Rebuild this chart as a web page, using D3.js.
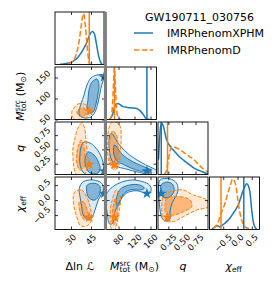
<!DOCTYPE html>
<html>
<head>
<meta charset="utf-8">
<script src="https://cdn.jsdelivr.net/npm/d3@7"></script>
<style>
  body { margin: 0; background: #fff; }
  text { font-family: "DejaVu Sans", sans-serif; }
</style>
</head>
<body>
<svg id="chart" width="276" height="285"></svg>
<script>
// ---- values ----
const eventName = "GW190711_030756";
const waveforms = ["IMRPhenomXPHM", "IMRPhenomD"];

const dlnLRange = [18, 55.5];
const mtotRange = [50, 175];
const qRange = [0.06, 0.98];
const chiRange = [-0.98, 0.77];

const dlnLTicks = [30, 45];
const mtotXTicks = [80, 120, 160];
const mtotYTicks = [50, 100, 150];
const qTicks = [0.25, 0.5, 0.75];
const chiTicks = [-0.5, 0, 0.5];

// max-likelihood samples (vertical lines / stars), order: dlnL, mtot, q, chiEff
const xphmMaxL = [54.75, 151, 0.12, 0.22];
const phenomdMaxL = [43.7, 70, 0.235, -0.577];

// 1D marginals, [value, density] with density relative to panel height
const xphmDlnL = [[21.75, 0.005], [26.25, 0.02], [30.75, 0.05], [35.25, 0.14], [39, 0.28], [42, 0.43], [44.25, 0.58], [46.1, 0.63], [47.6, 0.58], [49.1, 0.39], [50.6, 0.18], [52.1, 0.05], [53.25, 0.005]];
const phenomdDlnL = [[27.75, 0.01], [30.75, 0.05], [33.75, 0.18], [36, 0.43], [37.5, 0.7], [38.6, 0.9], [39.4, 0.97], [40.1, 0.9], [40.9, 0.7], [42, 0.37], [43.1, 0.12], [44.25, 0.01]];
const xphmMtot = [[57.5, 0], [65, 0.09], [71.25, 0.26], [75, 0.3], [80, 0.3], [90, 0.25], [102.5, 0.23], [115, 0.22], [125, 0.21], [135, 0.16], [142.5, 0.09], [148.75, 0.02], [157.5, 0]];
const phenomdMtot = [[57.5, 0], [62.5, 0.07], [65, 0.28], [67.5, 0.66], [69.5, 0.98], [71.5, 0.75], [73.75, 0.37], [76.25, 0.12], [80, 0.03], [87.5, 0]];
const xphmQ = [[0.069, 0.28], [0.088, 0.66], [0.106, 0.9], [0.128, 0.975], [0.152, 0.94], [0.18, 0.83], [0.207, 0.7], [0.244, 0.6], [0.281, 0.54], [0.373, 0.43], [0.465, 0.33], [0.557, 0.25], [0.649, 0.18], [0.741, 0.11], [0.833, 0.07], [0.925, 0.03], [0.98, 0.013]];
const phenomdQ = [[0.17, 0.005], [0.207, 0.05], [0.244, 0.24], [0.281, 0.45], [0.318, 0.53], [0.373, 0.52], [0.428, 0.49], [0.52, 0.43], [0.612, 0.36], [0.704, 0.3], [0.796, 0.2], [0.888, 0.11], [0.98, 0.05]];
const xphmChi = [[-0.893, 0.004], [-0.788, 0.05], [-0.7, 0.07], [-0.613, 0.05], [-0.507, 0.09], [-0.378, 0.15], [-0.262, 0.22], [-0.147, 0.31], [-0.052, 0.39], [0.028, 0.47], [0.122, 0.62], [0.203, 0.75], [0.263, 0.83], [0.322, 0.87], [0.385, 0.83], [0.438, 0.7], [0.497, 0.37], [0.543, 0.18], [0.578, 0.09], [0.672, 0.004]];
const phenomdChi = [[-0.847, 0.02], [-0.753, 0.07], [-0.672, 0.15], [-0.577, 0.3], [-0.437, 0.5], [-0.332, 0.7], [-0.262, 0.82], [-0.168, 0.96], [-0.105, 0.92], [-0.052, 0.82], [0.028, 0.5], [0.088, 0.31], [0.147, 0.18], [0.263, 0.05], [0.438, 0.01]];

// 2D credible contours (90% and 50%), [x, y] in data units
const xphmDlnLMtot90 = [[54.75, 156], [49.5, 156], [45, 148.8], [42, 132.1], [39.75, 108.3], [37.5, 86.9], [36, 70.2], [36.75, 58.3], [40.5, 53.6], [45, 56], [48, 67.9], [50.25, 89.3], [51.75, 113.1], [53.25, 134.5], [54.75, 148.8]];
const xphmDlnLMtot50 = [[49.5, 146.4], [45.75, 139.3], [43.5, 120.2], [42.75, 96.4], [42, 77.4], [43.5, 65.5], [46.5, 67.9], [48.75, 86.9], [50.25, 110.7], [51, 132.1]];
const phenomdDlnLMtot90 = [[32.25, 77.4], [35.25, 86.9], [39.75, 86.9], [42.75, 79.8], [43.5, 67.9], [42, 56], [39.75, 48], [33.75, 48], [30.75, 58.3], [30.75, 70.2]];
const phenomdDlnLMtot50 = [[36, 75], [39.75, 77.4], [41.25, 67.9], [39.75, 58.3], [36, 58.3], [34.5, 67.9]];

const xphmDlnLQ90 = [[39.75, 0.629], [44.25, 0.612], [48, 0.542], [51.75, 0.419], [54, 0.279], [54.75, 0.139], [53.25, 0.03], [44.25, 0.03], [39, 0.104], [36.75, 0.244], [36.75, 0.419], [37.5, 0.542]];
const xphmDlnLQ50 = [[42.75, 0.454], [47.25, 0.402], [50.25, 0.297], [51.75, 0.174], [50.25, 0.086], [44.25, 0.086], [41.25, 0.191], [40.5, 0.332]];
const phenomdDlnLQ90 = [[38.25, 0.962], [40.5, 0.84], [41.25, 0.664], [42, 0.489], [42.75, 0.314], [42, 0.174], [39.75, 0.04], [34.5, 0.04], [32.25, 0.174], [31.5, 0.349], [31.5, 0.524], [33, 0.699], [35.25, 0.875]];
const phenomdDlnLQ50 = [[37.5, 0.664], [39.75, 0.524], [40.5, 0.349], [39.75, 0.191], [36.75, 0.139], [34.5, 0.244], [34.5, 0.454], [36, 0.594]];

const xphmDlnLChi90 = [[39.2, 0.613], [46.7, 0.67], [53, 0.56], [54.2, 0.337], [50.5, 0.003], [48, -0.33], [45.5, -0.607], [43, -0.663], [39.2, -0.497], [38, -0.22], [36.75, 0.113], [36.2, 0.393]];
const xphmDlnLChi50 = [[42.2, 0.503], [48, 0.56], [51.75, 0.447], [51.2, 0.17], [48, 0.003], [43.7, 0.06], [41.8, 0.28]];
const phenomdDlnLChi90 = [[33, 0.28], [38, 0.337], [41.8, 0.113], [44.25, -0.22], [45.5, -0.553], [44.25, -0.773], [40.5, -0.887], [36.75, -0.83], [34.3, -0.553], [32.25, -0.22], [31.7, 0.113]];
const phenomdDlnLChi50 = [[36.2, -0.053], [39.2, -0.053], [41.8, -0.273], [43, -0.553], [40.5, -0.663], [38, -0.553], [36.2, -0.273]];

const xphmMtotQ90 = [[61.75, 0.782], [82.5, 0.577], [107.5, 0.402], [140.75, 0.256], [165.75, 0.169], [178, 0.121], [178, 0.04], [132.5, 0.095], [99.25, 0.156], [74.25, 0.209], [61.75, 0.331], [56.25, 0.559], [57.5, 0.717]];
const xphmMtotQ50 = [[70, 0.577], [90.75, 0.402], [115.75, 0.284], [149.25, 0.179], [162.5, 0.139], [157.5, 0.099], [124.25, 0.139], [95, 0.226], [74.25, 0.314], [67.5, 0.459]];
const phenomdMtotQ90 = [[65.75, 0.985], [82.5, 0.927], [86.75, 0.694], [84.25, 0.459], [80.75, 0.226], [70, 0.139], [55.75, 0.284], [53.25, 0.577], [55.75, 0.869]];
const phenomdMtotQ50 = [[65, 0.822], [75, 0.752], [78.75, 0.524], [77.5, 0.279], [70, 0.174], [60, 0.261], [57.5, 0.524], [60, 0.717]];

const xphmMtotChi90 = [[49.25, 0.17], [65.75, 0.447], [90.75, 0.613], [115.75, 0.67], [140.75, 0.613], [157.5, 0.503], [161.75, 0.337], [153.25, 0.227], [124.25, 0.313], [99.25, 0.227], [82.5, -0.053], [70, -0.44], [65.75, -0.773], [57.5, -0.797], [52.5, -0.497]];
const xphmMtotChi50 = [[82.5, 0.337], [107.5, 0.503], [132.5, 0.503], [145, 0.393], [132.5, 0.337], [107.5, 0.337], [90.75, 0.17], [78.25, -0.22], [74.25, -0.107]];
const phenomdMtotChi90 = [[74.25, 0.337], [84.25, 0.113], [82.5, -0.33], [75.75, -0.773], [70, -1.0], [61.75, -0.94], [59.25, -0.44], [64.25, 0.003]];
const phenomdMtotChi50 = [[72.5, 0.06], [78.25, -0.22], [74.25, -0.663], [67.5, -0.83], [64.25, -0.553], [67.5, -0.163]];

const xphmQChi90 = [[0.097, 0.67], [0.207, 0.72], [0.336, 0.67], [0.41, 0.537], [0.428, 0.337], [0.391, 0.137], [0.318, -0.097], [0.281, -0.397], [0.281, -0.63], [0.207, -0.697], [0.134, -0.597], [0.097, -0.33], [0.078, 0.07], [0.069, 0.403]];
const xphmQChi50 = [[0.134, 0.537], [0.244, 0.603], [0.336, 0.503], [0.354, 0.303], [0.299, 0.137], [0.189, 0.07], [0.115, 0.203], [0.106, 0.403]];
const phenomdQChi90 = [[0.281, 0.28], [0.526, 0.337], [0.71, 0.17], [0.956, 0.003], [0.985, -0.22], [0.771, -0.33], [0.526, -0.553], [0.342, -0.72], [0.158, -0.663], [0.128, -0.33], [0.158, 0.113]];
const phenomdQChi50 = [[0.22, 0.06], [0.465, 0.113], [0.649, 0.003], [0.68, -0.22], [0.526, -0.387], [0.342, -0.497], [0.207, -0.44], [0.189, -0.163]];

// ---- layout ----
const svg = d3.select("#chart");
const gridLeft = 55, gridTop = 12;
const cellW = 50, cellH = 52.5, gapX = 1.5, gapY = 2.5;
const colX = (i) => gridLeft + i * (cellW + gapX);
const rowY = (j) => gridTop + j * (cellH + gapY);
const blue = "#1f77b4", orange = "#ff7f0e";
const tickFont = 8.5, labelFont = 11;

const axes = [
  { domain: dlnLRange, xTicks: dlnLTicks, yTicks: dlnLTicks, fmt: d3.format("d") },
  { domain: mtotRange, xTicks: mtotXTicks, yTicks: mtotYTicks, fmt: d3.format("d") },
  { domain: qRange, xTicks: qTicks, yTicks: qTicks, fmt: d3.format(".2f") },
  { domain: chiRange, xTicks: chiTicks, yTicks: chiTicks, fmt: d3.format(".1f") },
];
const xScales = axes.map((a, i) => d3.scaleLinear().domain(a.domain).range([colX(i), colX(i) + cellW]));
const yScales = axes.map((a, j) => d3.scaleLinear().domain(a.domain).range([rowY(j) + cellH, rowY(j)]));

const series = [
  { color: blue, dash: null, marg: [xphmDlnL, xphmMtot, xphmQ, xphmChi], maxL: xphmMaxL, fill: [0.16, 0.45] },
  { color: orange, dash: "3.7,1.6", marg: [phenomdDlnL, phenomdMtot, phenomdQ, phenomdChi], maxL: phenomdMaxL, fill: [0.18, 0.45] },
];

const panels2d = [
  { row: 1, col: 0, levels: [[xphmDlnLMtot90, xphmDlnLMtot50], [phenomdDlnLMtot90, phenomdDlnLMtot50]] },
  { row: 2, col: 0, levels: [[xphmDlnLQ90, xphmDlnLQ50], [phenomdDlnLQ90, phenomdDlnLQ50]] },
  { row: 3, col: 0, levels: [[xphmDlnLChi90, xphmDlnLChi50], [phenomdDlnLChi90, phenomdDlnLChi50]] },
  { row: 2, col: 1, levels: [[xphmMtotQ90, xphmMtotQ50], [phenomdMtotQ90, phenomdMtotQ50]] },
  { row: 3, col: 1, levels: [[xphmMtotChi90, xphmMtotChi50], [phenomdMtotChi90, phenomdMtotChi50]] },
  { row: 3, col: 2, levels: [[xphmQChi90, xphmQChi50], [phenomdQChi90, phenomdQChi50]] },
];

const defs = svg.append("defs");
const clipFor = (row, col) => {
  const id = `clip-${row}-${col}`;
  defs.append("clipPath").attr("id", id)
    .append("rect").attr("x", colX(col)).attr("y", rowY(row)).attr("width", cellW).attr("height", cellH);
  return `url(#${id})`;
};

const ticks = (g, x, y, xVals, yVals) => {
  const tl = -3;
  const addAxis = (axis, tr) => {
    const a = g.append("g").attr("transform", tr).call(axis.tickSize(tl).tickSizeOuter(0).tickFormat(""));
    a.select(".domain").remove();
    a.selectAll("line").attr("stroke-width", 0.8);
  };
  addAxis(d3.axisBottom(x).tickValues(xVals), `translate(0,${y.range()[0]})`);
  addAxis(d3.axisTop(x).tickValues(xVals), `translate(0,${y.range()[1]})`);
  if (yVals) {
    addAxis(d3.axisLeft(y).tickValues(yVals), `translate(${x.range()[0]},0)`);
    addAxis(d3.axisRight(y).tickValues(yVals), `translate(${x.range()[1]},0)`);
  }
};

const frame = (g, row, col) => {
  g.append("rect").attr("x", colX(col)).attr("y", rowY(row)).attr("width", cellW).attr("height", cellH)
    .attr("fill", "none").attr("stroke", "#000").attr("stroke-width", 0.9);
};

const star = d3.symbol(d3.symbolStar, 38);

// ---- diagonal: 1D marginals ----
axes.forEach((a, i) => {
  const g = svg.append("g").attr("class", "diag");
  const x = xScales[i];
  const yD = d3.scaleLinear().domain([0, 1]).range([rowY(i) + cellH, rowY(i)]);
  const body = g.append("g").attr("clip-path", clipFor(i, i));
  const line = d3.line().curve(d3.curveMonotoneX).x((d) => x(d[0])).y((d) => yD(d[1]));
  series.forEach((s) => {
    body.append("path").attr("d", line(s.marg[i]))
      .attr("fill", "none").attr("stroke", s.color).attr("stroke-width", 1.5)
      .attr("stroke-dasharray", s.dash ? "5.5,2.4" : null);
  });
  series.forEach((s) => {
    body.append("line").attr("x1", x(s.maxL[i])).attr("x2", x(s.maxL[i]))
      .attr("y1", rowY(i)).attr("y2", rowY(i) + cellH)
      .attr("stroke", s.color).attr("stroke-width", 1.5);
  });
  ticks(g, x, yD, a.xTicks, null);
  frame(g, i, i);
});

// ---- lower triangle: 2D contours ----
const closed = d3.line().curve(d3.curveCatmullRomClosed.alpha(0.5));
panels2d.forEach((p) => {
  const x = xScales[p.col], y = yScales[p.row];
  const g = svg.append("g").attr("class", "pair");
  const body = g.append("g").attr("clip-path", clipFor(p.row, p.col));
  const toPx = (pts) => closed(pts.map((d) => [x(d[0]), y(d[1])]));

  series.forEach((s, k) => {
    p.levels[k].forEach((pts, lvl) => {
      body.append("path").attr("d", toPx(pts)).attr("fill", s.color).attr("fill-opacity", s.fill[lvl]);
    });
  });
  series.forEach((s, k) => {
    p.levels[k].forEach((pts) => {
      body.append("path").attr("d", toPx(pts)).attr("fill", "none")
        .attr("stroke", s.color).attr("stroke-width", 1).attr("stroke-dasharray", s.dash);
    });
  });
  series.forEach((s) => {
    body.append("path").attr("d", star)
      .attr("transform", `translate(${x(s.maxL[p.col])},${y(s.maxL[p.row])})`)
      .attr("fill", s.color);
  });
  ticks(g, x, y, axes[p.col].xTicks, axes[p.row].yTicks);
  frame(g, p.row, p.col);
});

// gray bar between the first two columns
svg.append("rect")
  .attr("x", colX(1) - 2.6).attr("y", rowY(0))
  .attr("width", 3).attr("height", rowY(3) + cellH - rowY(0))
  .attr("fill", "#808080");

// ---- tick labels (rotated 45deg) ----
const labels = svg.append("g").attr("font-size", tickFont);
const rotLabel = (txt, px, py, side) => {
  const t = labels.append("text").text(txt).attr("text-anchor", "middle").attr("dominant-baseline", "central");
  const w = t.node().getComputedTextLength();
  const s = (w + tickFont * 1.05) * Math.SQRT1_2;
  const cx = side === "bottom" ? px : px - s / 2;
  const cy = side === "bottom" ? py + s / 2 : py;
  t.attr("transform", `translate(${cx},${cy}) rotate(-45)`);
};
axes.forEach((a, i) => {
  a.xTicks.forEach((v) => rotLabel(a.fmt(v), xScales[i](v), rowY(3) + cellH + 3, "bottom"));
  if (i > 0) a.yTicks.forEach((v) => rotLabel(a.fmt(v), colX(0) - 3, yScales[i](v), "left"));
});

// ---- axis titles ----
const mathLabel = (g, parts) => {
  const t = g.append("text").attr("font-size", labelFont);
  parts.forEach((p) => {
    const ts = t.append("tspan").text(p.text);
    if (p.italic) ts.attr("font-style", "italic");
    if (p.small) ts.attr("font-size", labelFont * 0.7);
    if (p.dy) ts.attr("dy", p.dy);
    if (p.dx) ts.attr("dx", p.dx);
  });
  return t;
};
const mtotParts = [
  { text: "M", italic: true },
  { text: "src", small: true, dy: -4.2 },
  { text: "tot", small: true, dy: 6.6, dx: -11.2 },
  { text: " (M", dy: -2.4, dx: 0.6 },
  { text: "⊙", small: true, dy: 2.4 },
  { text: ")", dy: -2.4 },
];
const chiParts = [{ text: "χ", italic: true }, { text: "eff", small: true, dy: 2.4 }];
const xTitles = [
  [{ text: "Δln ℒ" }],
  mtotParts,
  [{ text: "q", italic: true }],
  chiParts,
];
const titleOffsets = [0, 3, 0, 0];
xTitles.forEach((parts, i) => {
  const g = svg.append("g");
  const t = mathLabel(g, parts);
  const w = t.node().getBBox().width;
  g.attr("transform", `translate(${colX(i) + cellW / 2 - w / 2 + titleOffsets[i]},270)`);
});
xTitles.slice(1).forEach((parts, k) => {
  const j = k + 1;
  const g = svg.append("g");
  const t = mathLabel(g, parts);
  const w = t.node().getBBox().width;
  g.attr("transform", `translate(24,${rowY(j) + cellH / 2 + w / 2 + titleOffsets[j]}) rotate(-90)`);
});

// ---- legend ----
const legend = svg.append("g").attr("font-size", labelFont);
legend.append("text").attr("x", 145).attr("y", 21).text(eventName);
waveforms.forEach((name, k) => {
  const yy = 33 + k * 17;
  legend.append("line").attr("x1", 134).attr("x2", 153).attr("y1", yy).attr("y2", yy)
    .attr("stroke", series[k].color).attr("stroke-width", 1.5)
    .attr("stroke-dasharray", series[k].dash ? "5.5,2.4" : null);
  legend.append("text").attr("x", 167).attr("y", yy + 4).text(name);
});
</script>
</body>
</html>
